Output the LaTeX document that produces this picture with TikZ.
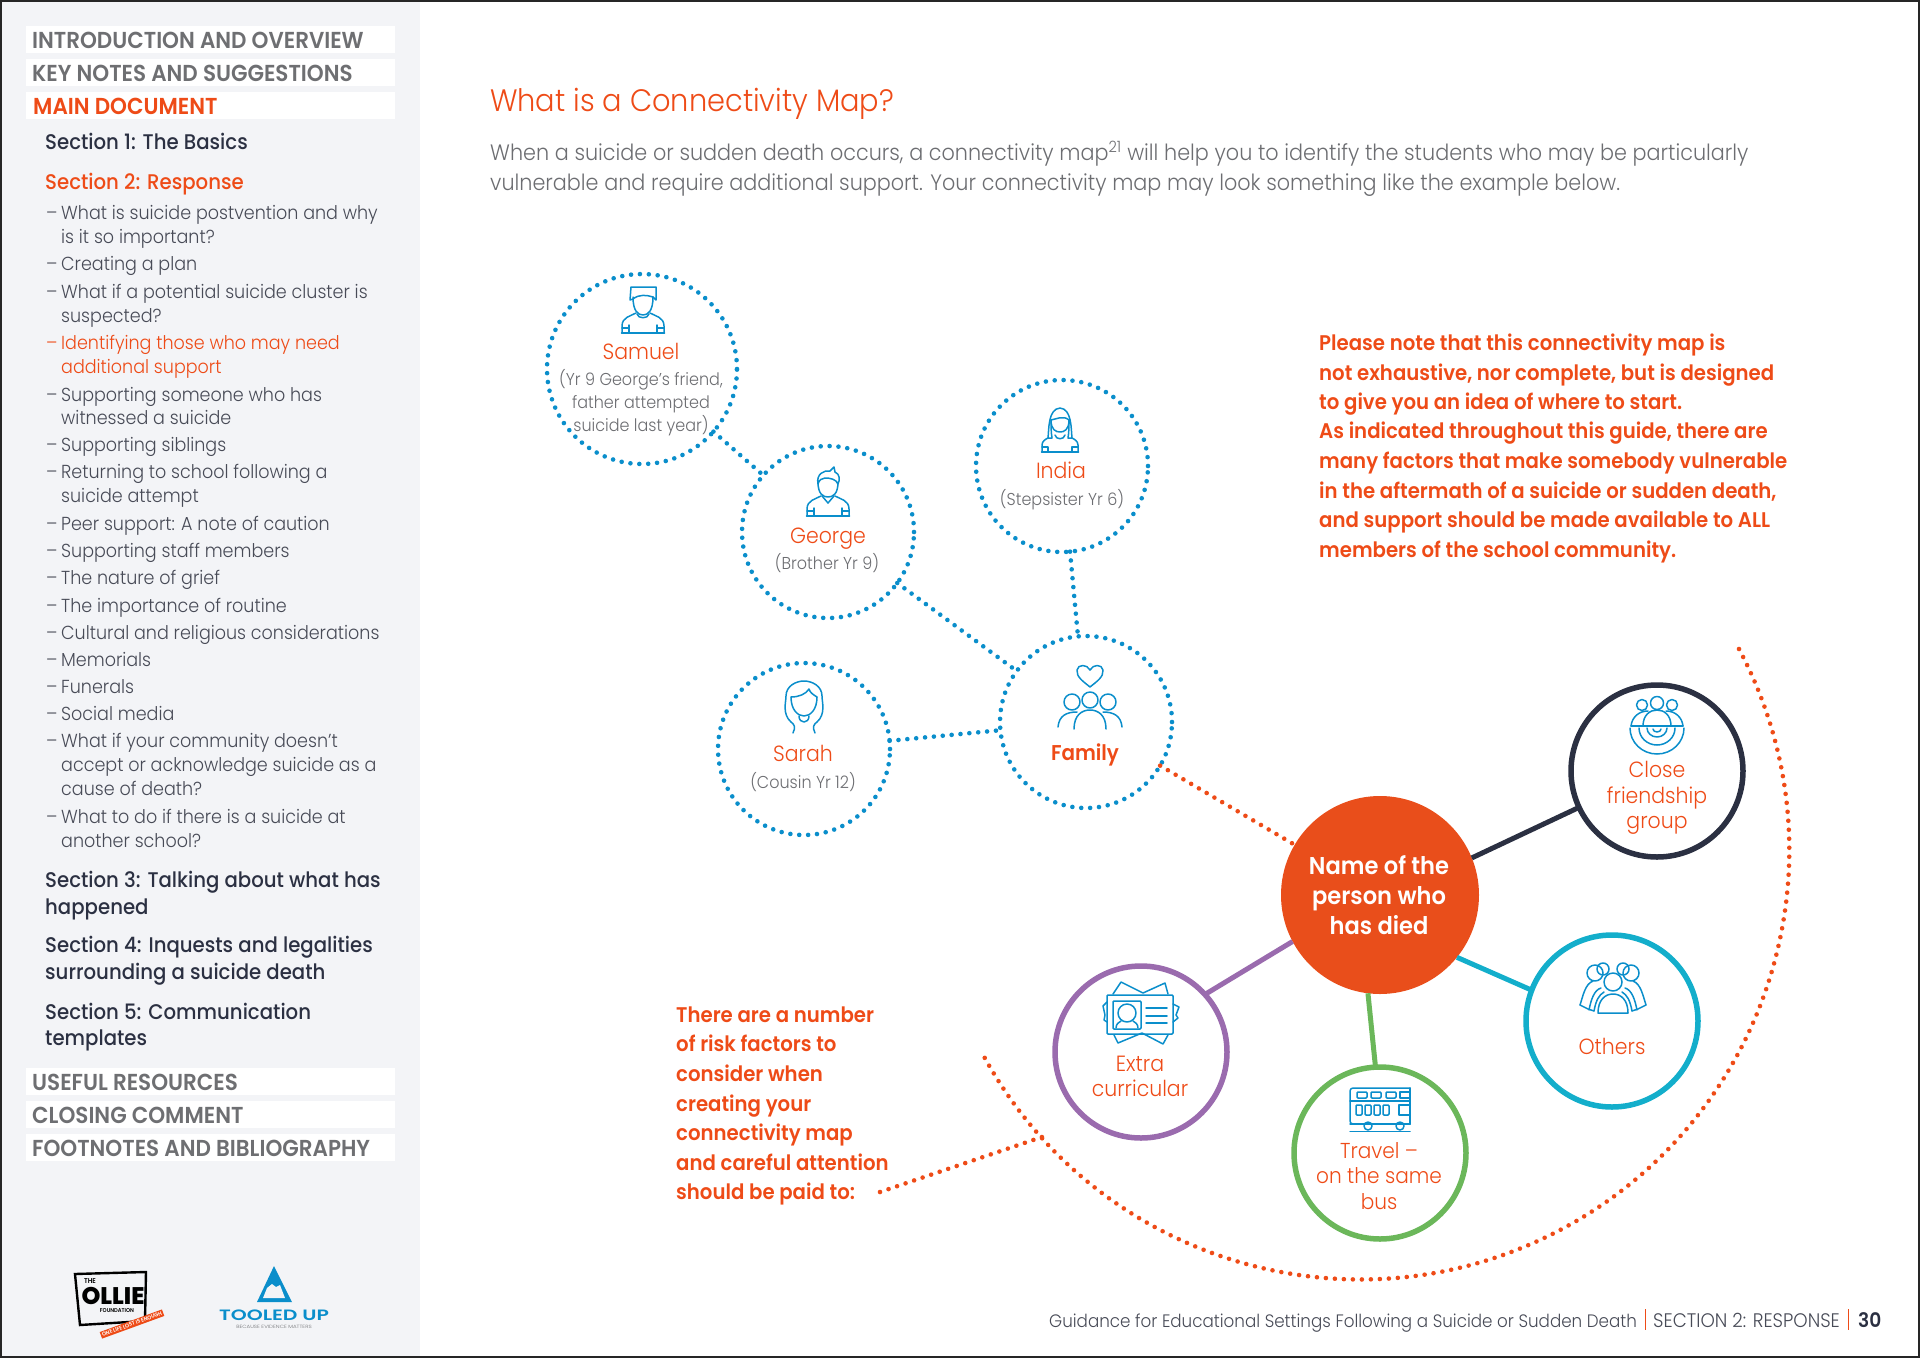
\documentclass[tikz,border=0pt]{standalone}
\usepackage{fontspec}
\setmainfont[FakeStretch=0.93,BoldFont={Poppins SemiBold}]{Poppins Light}
\newfontfamily\midfont[FakeStretch=0.93]{Poppins Medium}
\newfontfamily\heavyfont{Poppins ExtraBold}
\usetikzlibrary{arrows.meta}

\definecolor{ollred}{HTML}{EE4B17}
\definecolor{ollfill}{HTML}{E94E1B}
\definecolor{ollblue}{HTML}{0A8ECB}
\definecolor{sidegray}{HTML}{F3F4F7}
\definecolor{headgray}{HTML}{6E6F72}
\definecolor{textgray}{HTML}{6C6D71}
\definecolor{darknavy}{HTML}{2B3042}
\definecolor{itemgray}{HTML}{484B57}
\definecolor{teal}{HTML}{13AECB}
\definecolor{leaf}{HTML}{6BB75A}
\definecolor{plum}{HTML}{9A6BAE}
\newcommand{\fs}[1]{\fontsize{#1}{#1}\selectfont}

\tikzset{
  navhead/.style={anchor=base west,inner sep=0pt,font=\fs{23.1}\bfseries,text=headgray},
  navsec/.style={anchor=base west,inner sep=0pt,font=\fs{21.2}\midfont,text=darknavy},
  navitem/.style={anchor=base west,inner sep=0pt,font=\fs{18.85},text=itemgray},
  notetext/.style={anchor=base west,inner sep=0pt,font=\fs{21.2}\bfseries,text=ollred},
  namelabel/.style={anchor=base,inner sep=0pt,font=\fs{22},text=ollred},
  sublabel/.style={anchor=base,inner sep=0pt,font=\fs{17.2},text=textgray},
  bluering/.style={circle,draw=ollblue,minimum size=#1,inner sep=0pt,outer sep=0pt,
    line width=4.6pt,line cap=round,dash pattern=on 0pt off 8.9pt},
  bluedots/.style={draw=ollblue,line width=4.6pt,line cap=round,dash pattern=on 0pt off 8.9pt},
  reddots/.style={draw=ollred,line width=4.6pt,line cap=round,dash pattern=on 0pt off 9pt},
  solidring/.style={circle,draw=#1,line width=5.5pt,minimum size=172pt,inner sep=0pt,outer sep=0pt},
  iconline/.style={draw=ollblue,line width=1.5pt,line cap=round,line join=round}
}

% shoulders shared by the three children
\newcommand{\bustbody}[2]{%
  \begin{scope}[shift={(#1,#2)},iconline]
    \draw (-21,30) -- (-21,23) .. controls (-21,14) and (-12,13) .. (-7,10);
    \draw (21,30) -- (21,23) .. controls (21,14) and (12,13) .. (7,10);
    \draw (-21.5,30) -- (21.5,30);
    \draw (-14,22) -- (-14,30) (14,22) -- (14,30);
    \draw (-21,25) -- (-14,25) (21,25) -- (14,25);
  \end{scope}}

\begin{document}
\begin{tikzpicture}[x=1pt,y=-1pt]
  \useasboundingbox (0,0) rectangle (1920,1358);

  % ================= sidebar =================
  \fill[sidegray] (0,0) rectangle (420,1358);
  \foreach \yy in {26,59,92,1068,1101,1134} {
    \fill[white] (26,\yy) rectangle (395,\yy+27);
  }
  \foreach \yy/\txt in {48/INTRODUCTION AND OVERVIEW,81/KEY NOTES AND SUGGESTIONS,
    1090/USEFUL RESOURCES,1123/CLOSING COMMENT,1156/FOOTNOTES AND BIBLIOGRAPHY} {
    \node[navhead] (head\yy) at (32,\yy) {\txt};
  }
  \node[navhead,text=ollred] (maindoc) at (33,114) {MAIN DOCUMENT};

  \foreach \yy/\txt in {149/Section 1: The Basics,887/Section 3: Talking about what has,
    914/happened,952/Section 4: Inquests and legalities,979/surrounding a suicide death,
    1019/Section 5: Communication,1045/templates} {
    \node[navsec] (sec\yy) at (45,\yy) {\txt};
  }
  \node[navsec,text=ollred] (sectwo) at (45,189) {Section 2: Response};

  % list entries, the first line of each one gets a dash
  \foreach \yy/\txt in {219/What is suicide postvention and why,270/Creating a plan,
    298/What if a potential suicide cluster is,401/Supporting someone who has,
    451/Supporting siblings,478/Returning to school following a,
    530/Peer support: A note of caution,557/Supporting staff members,584/The nature of grief,
    612/The importance of routine,639/Cultural and religious considerations,666/Memorials,
    693/Funerals,720/Social media,747/What if your community doesn’t,823/What to do if there is a suicide at} {
    \node[navitem] (dash\yy) at (46,\yy) {–};
    \node[navitem] (item\yy) at (61,\yy) {\txt};
  }
  \foreach \yy/\txt in {243/is it so important?,322/suspected?,424/witnessed a suicide,502/suicide attempt,
    771/accept or acknowledge suicide as a,795/cause of death?,847/another school?} {
    \node[navitem] (item\yy) at (61,\yy) {\txt};
  }
  \node[navitem,text=ollred] (dash349) at (46,349) {–};
  \node[navitem,text=ollred] (item349) at (61,349) {Identifying those who may need};
  \node[navitem,text=ollred] (item373) at (61,373) {additional support};

  % ================= logos =================
  \draw[line width=2.4pt,black] (75,1274) -- (146,1272) -- (145,1321) -- (80,1325) -- cycle;
  \node[inner sep=0pt,font=\fs{7}\bfseries] (ollthe) at (90,1281) {THE};
  \node[inner sep=0pt,font=\fs{24}\heavyfont] (ollname) at (113,1296) {OLLIE};
  \node[inner sep=0pt,font=\fs{5.6}\bfseries] (ollfound) at (117,1311) {FOUNDATION};
  \node[fill=ollred,text=white,inner sep=1.5pt,rotate=20,font=\fs{5.5}\bfseries] (olltag) at (132,1324) {ONE LIFE LOST IS ENOUGH};
  \fill[ollblue] (274,1266) -- (292,1302) -- (257,1302) -- cycle;
  \fill[sidegray] (263,1298) -- (267,1288) -- (272,1284) -- (276,1287) -- (280,1285) -- (285,1298) -- cycle;
  \node[inner sep=0pt,font=\fs{15}\bfseries,text=ollblue] (toolname) at (274,1315) {\scalebox{1.46}[1]{TOOLED UP}};
  \node[inner sep=0pt,font=\fs{4.6},text=headgray] (toolsub) at (274,1327) {\scalebox{1.3}[1]{BECAUSE EVIDENCE MATTERS}};

  % ================= heading =================
  \node[anchor=base west,inner sep=0pt,font=\fs{31},text=ollred] (title) at (490,111) {What is a Connectivity Map?};
  \node[anchor=base west,inner sep=0pt,font=\fs{22.3},text=textgray] (introa) at (490,160)
    {When a suicide or sudden death occurs, a connectivity map\textsuperscript{21} will help you to identify the students who may be particularly};
  \node[anchor=base west,inner sep=0pt,font=\fs{22.3},text=textgray] (introb) at (490,190)
    {vulnerable and require additional support. Your connectivity map may look something like the example below.};

  % ================= notes =================
  \foreach \yy/\txt in {350/Please note that this connectivity map is,380/{not exhaustive, nor complete, but is designed},
    409/to give you an idea of where to start.,438/{As indicated throughout this guide, there are},
    468/many factors that make somebody vulnerable,498/{in the aftermath of a suicide or sudden death,},
    527/{and support should be made available to ALL},557/members of the school community.} {
    \node[notetext] (note\yy) at (1319,\yy) {\txt};
  }
  \foreach \yy/\txt in {1022/There are a number,1051/of risk factors to,1081/consider when,1111/creating your,
    1140/connectivity map,1170/and careful attention,1199/should be paid to:} {
    \node[notetext] (risk\yy) at (676,\yy) {\txt};
  }

  % ================= circles =================
  \node[bluering=190pt] (samuel) at (642,369) {};
  \node[bluering=172pt] (george) at (828,532) {};
  \node[bluering=172pt] (india) at (1062,466) {};
  \node[bluering=172pt] (sarah) at (804,749) {};
  \node[bluering=172pt] (family) at (1086,722) {};
  \node[circle,fill=ollfill,minimum size=198pt,inner sep=0pt,outer sep=0pt] (person) at (1380,895) {};
  \node[solidring=darknavy] (close) at (1657,771) {};
  \node[solidring=teal] (others) at (1612,1021) {};
  \node[solidring=leaf] (travel) at (1380,1153) {};
  \node[solidring=plum] (extra) at (1141,1052) {};

  % ================= connectors =================
  \draw[bluedots] (samuel) -- (george);
  \draw[bluedots] (george) -- (family);
  \draw[bluedots] (india) -- (family);
  \draw[bluedots] (sarah) -- (family);
  \draw[reddots] (family) -- (person);
  \draw[darknavy,line width=5pt] (person.22.7) -- (close.205);
  \draw[teal,line width=5pt] (person.-39) -- (others.159);
  \draw[leaf,line width=5pt] (person.-97) -- (travel.93);
  \draw[plum,line width=5pt] (person.208.6) -- (extra.42.7);

  % big arc round the solid circles and the line from the note
  \coordinate (arcstart) at (1739,649);
  \coordinate (arcjoin) at (1042,1137);
  \coordinate (riskend) at (880,1192);
  \draw[reddots] (arcstart) arc[start angle=-28,end angle=151.3,radius=429];
  \draw[reddots] (riskend) -- (arcjoin);

  % ================= labels =================
  \foreach \xx/\yy/\txt in {641/359/Samuel,828/543/George,1061/478/India,803/761/Sarah,
    1657/777/Close,1657/803/friendship,1657/828/group,1612/1054/Others,
    1140/1071/Extra,1140/1096/curricular} {
    \node[namelabel] (lab\xx-\yy) at (\xx,\yy) {\txt};
  }
  \foreach \yy/\txt in {1158/Travel –,1183/on the same,1209/bus} {
    \node[namelabel,font=\fs{21.6}] (trav\yy) at (1379,\yy) {\txt};
  }
  \foreach \xx/\yy/\txt in {641/385/{(Yr 9 George's friend,},641/408/father attempted,641/431/suicide last year),
    827/569/(Brother Yr 9),1062/505/(Stepsister Yr 6),803/788/(Cousin Yr 12)} {
    \node[sublabel] (sub\xx-\yy) at (\xx,\yy) {\txt};
  }
  \node[namelabel,font=\fs{21.4}\bfseries] (familylabel) at (1085,760) {Family};
  \foreach \yy/\txt in {874/Name of the,904/person who,934/has died} {
    \node[namelabel,font=\fs{24.3}\bfseries,text=white] (pers\yy) at (1379,\yy) {\txt};
  }

  % ================= icons =================
  % Samuel
  \bustbody{643}{303}
  \begin{scope}[shift={(643,303)},iconline]
    \draw (-10,-6) .. controls (-10,8) and (-5,12) .. (0,12) .. controls (5,12) and (10,8) .. (10,-6);
    \draw (-13,-3) -- (-12,-16) -- (13,-16) -- (13,-3) -- (10,-6) .. controls (4,-8) and (-4,-9) .. (-10,-4) -- cycle;
    \draw (-6,11) .. controls (-5,16) and (5,16) .. (6,11);
  \end{scope}
  % George
  \bustbody{828}{486}
  \begin{scope}[shift={(828,486)},iconline]
    \draw (-10,-4) .. controls (-10,8) and (-5,11) .. (0,11) .. controls (5,11) and (10,8) .. (10,-4);
    \draw (-10,-2) .. controls (-12,-12) and (-4,-16) .. (2,-15) -- (6,-19) -- (7,-14) .. controls (12,-12) and (12,-6) .. (10,-2) .. controls (8,-7) and (2,-8) .. (-3,-8) .. controls (-6,-8) and (-9,-6) .. (-10,-2);
    \draw (-6,10) -- (0,17) -- (6,10);
  \end{scope}
  % India
  \begin{scope}[shift={(1060,423)},iconline]
    \draw (-9,-3) .. controls (-9,7) and (-4,9) .. (0,9) .. controls (4,9) and (9,7) .. (9,-3);
    \draw (-9,-3) .. controls (-3,-4) and (3,-8) .. (9,-3);
    \draw (-12,15) .. controls (-11,6) and (-12,-14) .. (0,-15) .. controls (12,-14) and (11,6) .. (12,15) -- (8,15) .. controls (9,9) and (9,3) .. (9,-3);
    \draw (-12,15) -- (-8,15) .. controls (-9,9) and (-9,3) .. (-9,-3);
    \draw (-18,29) -- (-18,22) .. controls (-18,18) and (-14,16) .. (-12,15);
    \draw (18,29) -- (18,22) .. controls (18,18) and (14,16) .. (12,15);
    \draw (-18.5,29) -- (18.5,29);
    \draw (-18,24) -- (-12,24) -- (-12,29) (18,24) -- (12,24) -- (12,29);
    \draw (-5,12) .. controls (-4,17) and (4,17) .. (5,12);
  \end{scope}
  % Sarah
  \begin{scope}[shift={(804,702)},iconline]
    \draw (-11,31) .. controls (-8,25) and (-10,22) .. (-13,20) .. controls (-22,12) and (-18,0) .. (-18,-6) .. controls (-18,-16) and (-8,-21) .. (0,-21) .. controls (8,-21) and (18,-16) .. (18,-6) .. controls (18,0) and (22,12) .. (13,20) .. controls (10,22) and (8,25) .. (11,31);
    \draw (-13,-5) .. controls (-13,8) and (-6,14) .. (0,14) .. controls (6,14) and (13,8) .. (13,-5);
    \draw (-13,-5) .. controls (-5,-5) and (2,-8) .. (5,-13) .. controls (6,-9) and (10,-7) .. (13,-5);
    \draw (-5,14) .. controls (-5,22) and (5,22) .. (5,14);
  \end{scope}
  % Family
  \begin{scope}[shift={(1090,702)},iconline]
    \draw (0,-15) .. controls (-6,-20) and (-14,-25) .. (-13,-32) .. controls (-12,-38) and (-3,-38) .. (0,-32) .. controls (3,-38) and (12,-38) .. (13,-32) .. controls (14,-25) and (6,-20) .. (0,-15) -- cycle;
    \draw (-18,0) circle[radius=8];
    \draw (0,-2) circle[radius=8];
    \draw (18,0) circle[radius=8];
    \draw (-32,25) .. controls (-31,14) and (-24,10) .. (-13,10);
    \draw (32,25) .. controls (31,14) and (24,10) .. (13,10);
    \draw (-16,27) .. controls (-16,13) and (-8,8) .. (0,8) .. controls (8,8) and (16,13) .. (16,27);
  \end{scope}
  % Close friendship group
  \begin{scope}[shift={(1657,726)},iconline]
    \draw (-15,-21) circle[radius=5.5];
    \draw (0,-23) circle[radius=6.5];
    \draw (15,-21) circle[radius=5.5];
    \draw (-26,0) -- (26,0);
    \draw (-26,0) .. controls (-25,-9) and (-18,-15) .. (-9,-15);
    \draw (26,0) .. controls (25,-9) and (18,-15) .. (9,-15);
    \draw (-14,0) .. controls (-14,-11) and (-7,-16) .. (0,-16) .. controls (7,-16) and (14,-11) .. (14,0);
    \draw (-27,2) arc[start angle=180,end angle=0,x radius=27,y radius=26];
    \draw (-18,2) arc[start angle=180,end angle=0,x radius=18,y radius=17];
    \draw (-10,2) arc[start angle=180,end angle=0,x radius=10,y radius=9];
    \draw (-4,3) arc[start angle=180,end angle=0,x radius=4,y radius=3];
  \end{scope}
  % Others
  \begin{scope}[shift={(1613,982)},iconline]
    \draw (0,0) circle[radius=9];
    \draw (-18,-9) circle[radius=8];
    \draw (18,-9) circle[radius=8];
    \draw (-10,-13) circle[radius=6];
    \draw (10,-13) circle[radius=6];
    \draw (-15,31) .. controls (-15,18) and (-8,12) .. (0,12) .. controls (8,12) and (15,18) .. (15,31) -- cycle;
    \draw (-19,29) .. controls (-17,18) and (-14,13) .. (-9,10);
    \draw (19,29) .. controls (17,18) and (14,13) .. (9,10);
    \draw (-33,23) .. controls (-30,14) and (-28,2) .. (-20,-1);
    \draw (33,23) .. controls (30,14) and (28,2) .. (20,-1);
    \draw (-33,23) -- (-25,27) -- (-19,29) (33,23) -- (25,27) -- (19,29);
    \draw (-24,28) .. controls (-22,18) and (-19,8) .. (-12,6);
    \draw (24,28) .. controls (22,18) and (19,8) .. (12,6);
  \end{scope}
  % Extra curricular
  \begin{scope}[iconline]
    \draw (1113,994) -- (1121,982) -- (1143,993) -- (1165,983) -- (1168,994);
    \draw (1114,1035) -- (1118,1043) -- (1142,1033) -- (1163,1044) -- (1168,1035);
    \draw (1107,1002) -- (1103,1006) -- (1105,1015) -- (1104,1020) -- (1107,1022);
    \draw (1173,1004) -- (1179,1007) -- (1176,1015) -- (1178,1018) -- (1173,1022);
    \draw[rounded corners=1pt] (1107,995) rectangle (1173,1034);
    \draw[rounded corners=1pt] (1113,1001) rectangle (1141,1029);
    \draw (1127,1013) circle[radius=9];
    \draw (1116,1028) .. controls (1116,1024) and (1119,1022) .. (1121,1021);
    \draw (1138,1028) .. controls (1138,1024) and (1135,1022) .. (1133,1021);
    \foreach \yy in {1008,1016,1023} {\draw (1146,\yy) -- (1167,\yy);}
  \end{scope}
  % Travel
  \begin{scope}[iconline]
    \draw[rounded corners=3pt] (1410,1124) -- (1350,1124) -- (1350,1088) -- (1410,1088);
    \draw (1410,1088) -- (1410,1124) (1350,1101) -- (1410,1101) (1350,1131.5) -- (1410,1131.5);
    \foreach \xx in {1357,1371,1386} {\draw[rounded corners=1pt] (\xx,1092) rectangle (\xx+10,1098);}
    \draw (1410,1092) -- (1400,1092) -- (1400,1098) -- (1410,1098);
    \foreach \xx in {1356,1365,1374,1383} {\draw[rounded corners=1pt] (\xx,1105) rectangle (\xx+6,1115);}
    \draw (1410,1105) -- (1399,1105) -- (1399,1115) -- (1410,1115);
    \draw (1368,1126) circle[radius=4];
    \draw (1400,1126) circle[radius=4];
    \draw (1350,1124) -- (1410,1124);
  \end{scope}

  % ================= footer =================
  \node[anchor=base west,inner sep=0pt,font=\fs{18},text=itemgray] (footer) at (1049,1327) {Guidance for Educational Settings Following a Suicide or Sudden Death};
  \node[anchor=base west,inner sep=0pt,font=\fs{19.6},text=itemgray] (footsec) at (1653,1327) {SECTION 2: RESPONSE};
  \node[anchor=base west,inner sep=0pt,font=\fs{20}\bfseries,text=darknavy] (footnum) at (1858,1327) {30};
  \draw[ollred,line width=1.6pt] (1645.5,1309) -- (1645.5,1330);
  \draw[ollred,line width=1.6pt] (1848.5,1309) -- (1848.5,1330);

  % ================= page frame =================
  \draw[line width=2.4pt,black!85] (1,1) rectangle (1919,1357);
\end{tikzpicture}
\end{document}
